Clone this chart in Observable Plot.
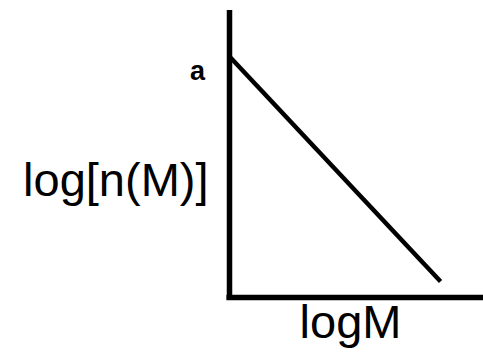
<!DOCTYPE html>
<html>
<head>
<meta charset="utf-8">
<script src="https://cdn.jsdelivr.net/npm/d3@7"></script>
<script src="https://cdn.jsdelivr.net/npm/@observablehq/plot@0.6"></script>
<style>
  html, body { margin: 0; padding: 0; background: #fff; }
  #chart { width: 483px; height: 353px; }
</style>
</head>
<body>
<div id="chart"></div>
<script>
// Schematic mass function: log n(M) falls linearly with log M from the intercept a.
const logM = [0, 8.31];
const logN = [8.4, 0.56];
const interceptLabel = ["a"];
const yAxisLabel = ["log[n(M)]"];
const xAxisLabel = ["logM"];

const line = logM.map((m, i) => ({logM: m, logN: logN[i]}));
const font = "Liberation Sans, Arial, Helvetica, sans-serif";

const chart = Plot.plot({
  width: 483,
  height: 353,
  marginLeft: 229,
  marginRight: 0,
  marginTop: 10,
  marginBottom: 56,
  style: {background: "#fff", fontFamily: font},
  x: {domain: [0, 10], axis: null},
  y: {domain: [0, 10], axis: null},
  marks: [
    // axes drawn as plain heavy rules
    Plot.ruleX([0], {y1: -0.1, y2: 10, stroke: "#000", strokeWidth: 5.5}),
    Plot.ruleY([0], {x1: -0.1, x2: 10, stroke: "#000", strokeWidth: 5.5}),
    Plot.line(line, {x: "logM", y: "logN", stroke: "#000", strokeWidth: 4.5, strokeLinecap: "butt"}),
    Plot.text(interceptLabel, {
      x: () => logM[0], y: () => logN[0], text: d => d,
      lineAnchor: "middle", textAnchor: "middle",
      dx: -32, dy: 15, fontSize: 27, fontWeight: "bold", fill: "#000", fontFamily: font
    }),
    Plot.text(yAxisLabel, {
      frameAnchor: "left", text: d => d, textAnchor: "end", lineAnchor: "middle",
      dx: -21, dy: 26.5, fontSize: 47, fill: "#000", fontFamily: font
    }),
    Plot.text(xAxisLabel, {
      frameAnchor: "bottom", text: d => d, textAnchor: "middle", lineAnchor: "middle",
      dx: -6, dy: 25, fontSize: 47, fill: "#000", fontFamily: font
    })
  ]
});
document.getElementById("chart").appendChild(chart);
</script>
</body>
</html>
